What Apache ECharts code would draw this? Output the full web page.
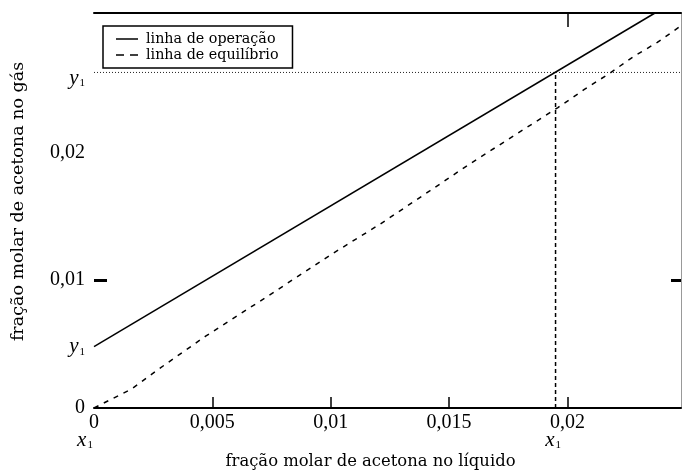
<!DOCTYPE html>
<html>
<head>
<meta charset="utf-8">
<script src="https://cdn.jsdelivr.net/npm/echarts@6/dist/echarts.min.js"></script>
<style>html,body{margin:0;padding:0;background:#fff}#c{width:683px;height:470px}</style>
</head>
<body>
<div id="c"></div>
<script>
// ---- data ----
const xTickVals = [0, 0.005, 0.01, 0.015, 0.02];
const yTickVals = [0, 0.01, 0.02];
const opX = [0, 0.0237];
const opY = [0.0048, 0.0309];
const eqX = [0, 0.0016, 0.0027, 0.0047, 0.0073, 0.0101, 0.0121, 0.0142, 0.0158, 0.0174, 0.0196, 0.0207, 0.0218, 0.0228, 0.0238, 0.0248];
const eqY = [0, 0.0015, 0.0030, 0.0056, 0.0087, 0.0121, 0.0144, 0.0170, 0.0190, 0.0209, 0.0235, 0.0249, 0.0262, 0.0275, 0.0286, 0.0299];
const x1 = 0.0195;
const y1 = 0.02625;
const y2 = 0.0048;
const xMax = 0.0248;
const yMax = 0.0309;
const seriesNames = ['linha de operação', 'linha de equilíbrio'];
const xName = 'fração molar de acetona no líquido';
const yName = 'fração molar de acetona no gás';

const zip = (a, b) => a.map((v, i) => [v, b[i]]);
const num = v => v === 0 ? '0' : String(v).replace('.', ',');
const near = (a, b) => Math.abs(a - b) < 1e-9;

const serifNum = 'Liberation Serif';
const serifTxt = 'DejaVu Serif';

const rich = {
  v: { fontFamily: serifNum, fontStyle: 'italic', fontSize: 21, color: '#000' },
  vt: { fontFamily: serifNum, fontStyle: 'italic', fontSize: 21, color: '#000', padding: [12, 0, 0, 0] },
  s: { fontFamily: serifNum, fontSize: 11, color: '#000', verticalAlign: 'bottom', padding: [0, 0, 0, 1] },
  so: { fontFamily: serifNum, fontSize: 11, color: '#000', verticalAlign: 'bottom', padding: [0, 18, 0, 1] },
  sx: { fontFamily: serifNum, fontSize: 11, color: '#000', verticalAlign: 'bottom', padding: [0, 5, 0, 1] }
};

const chart = echarts.init(document.getElementById('c'), null, { renderer: 'canvas' });
chart.setOption({
  animation: false,
  backgroundColor: '#fff',
  grid: { left: 94, right: 2, top: 13, bottom: 62, containLabel: false, outerBoundsMode: 'none' },
  legend: {
    orient: 'vertical',
    left: 103, top: 26,
    padding: [6, 14, 6, 13],
    itemGap: 2,
    itemWidth: 22,
    itemHeight: 2,
    borderColor: '#000',
    borderWidth: 1.5,
    textStyle: { fontFamily: serifTxt, fontSize: 14.3, color: '#000', padding: [0, 0, 0, 3] },
    data: [
      { name: seriesNames[0], icon: 'path://M0,0H22V1.5H0Z' },
      { name: seriesNames[1], icon: 'path://M0,0H8V1.5H0ZM14,0H22V1.5H14Z' }
    ]
  },
  xAxis: [
    {
      type: 'value', position: 'bottom', min: 0, max: xMax,
      name: xName, nameLocation: 'middle', nameGap: 46,
      nameTextStyle: { fontFamily: serifTxt, fontSize: 16.4, color: '#000', padding: [0, 34, 0, 0] },
      axisLine: { show: true, onZero: false, lineStyle: { color: '#000', width: 2 } },
      axisTick: { show: true, inside: true, length: 11, lineStyle: { color: '#000', width: 1.5 }, customValues: [0.005, 0.01, 0.015, 0.02] },
      axisLabel: { show: true, margin: 5, fontFamily: serifNum, fontSize: 20, color: '#000', customValues: xTickVals, formatter: v => num(v) },
      splitLine: { show: false }
    },
    {
      type: 'value', position: 'bottom', min: 0, max: xMax,
      axisLine: { show: false, onZero: false }, axisTick: { show: false }, splitLine: { show: false },
      axisLabel: {
        show: true, margin: 22, rich: rich, customValues: [0, x1],
        formatter: v => near(v, 0) ? '{v|x}{so|1}' : '{v|x}{sx|1}'
      }
    },
    {
      type: 'value', position: 'top', min: 0, max: xMax,
      axisLine: { show: true, onZero: false, lineStyle: { color: '#000', width: 2 } },
      axisTick: { show: true, inside: true, length: 14, lineStyle: { color: '#000', width: 1.5 }, customValues: [0.02] },
      axisLabel: { show: false }, splitLine: { show: false }
    }
  ],
  yAxis: [
    {
      type: 'value', position: 'left', min: 0, max: yMax,
      name: yName, nameLocation: 'middle', nameGap: 67,
      nameTextStyle: { fontFamily: serifTxt, fontSize: 17.5, color: '#000', padding: [0, 0, 0, 18] },
      axisLine: { show: false, onZero: false },
      axisTick: { show: true, inside: true, length: 13, lineStyle: { color: '#000', width: 3 }, customValues: [0.01] },
      axisLabel: {
        show: true, margin: 9, fontFamily: serifNum, fontSize: 20, color: '#000', rich: rich,
        customValues: [0, y2, 0.01, 0.02, y1],
        formatter: v => near(v, y1) ? '{vt|y}{s|1}' : (near(v, y2) ? '{v|y}{s|1}' : num(v))
      },
      splitLine: { show: false }
    },
    {
      type: 'value', position: 'right', min: 0, max: yMax,
      axisLine: { show: true, onZero: false, lineStyle: { color: '#999', width: 1 } },
      axisTick: { show: true, inside: true, length: 10, lineStyle: { color: '#000', width: 3 }, customValues: [0.01] },
      axisLabel: { show: false }, splitLine: { show: false }
    }
  ],
  series: [
    {
      name: seriesNames[0], type: 'line', xAxisIndex: 0, yAxisIndex: 0,
      data: zip(opX, opY), showSymbol: false, symbol: 'none',
      lineStyle: { color: '#000', width: 1.5, type: 'solid' }, itemStyle: { color: '#000' }
    },
    {
      name: seriesNames[1], type: 'line', xAxisIndex: 0, yAxisIndex: 0,
      data: zip(eqX, eqY), showSymbol: false, symbol: 'none',
      lineStyle: { color: '#000', width: 1.5, type: [5, 6] }, itemStyle: { color: '#000' }
    },
    {
      name: 'y1 guide', type: 'line', xAxisIndex: 0, yAxisIndex: 0,
      data: [[0, y1], [xMax, y1]], showSymbol: false, symbol: 'none', silent: true,
      lineStyle: { color: '#222', width: 1, type: [1, 2] }
    },
    {
      name: 'x1 guide', type: 'line', xAxisIndex: 0, yAxisIndex: 0,
      data: [[x1, 0], [x1, y1]], showSymbol: false, symbol: 'none', silent: true,
      lineStyle: { color: '#000', width: 1.5, type: [4, 3] }
    }
  ]
});
</script>
</body>
</html>
